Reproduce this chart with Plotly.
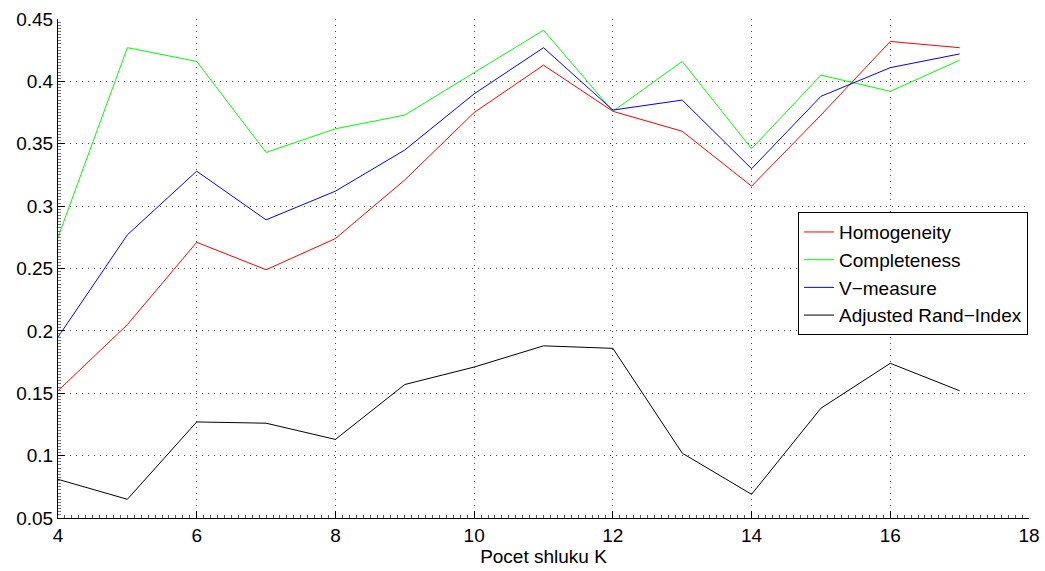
import plotly.graph_objects as go

k_values = [4, 5, 6, 7, 8, 9, 10, 11, 12, 13, 14, 15, 16, 17]
homogeneity = [0.152, 0.205, 0.271, 0.249, 0.274, 0.321, 0.375, 0.413, 0.376, 0.360, 0.316, 0.373, 0.432, 0.427]
completeness = [0.275, 0.427, 0.416, 0.343, 0.362, 0.373, 0.407, 0.441, 0.376, 0.416, 0.346, 0.405, 0.392, 0.417]
v_measure = [0.195, 0.277, 0.328, 0.289, 0.312, 0.345, 0.390, 0.427, 0.377, 0.385, 0.330, 0.388, 0.411, 0.422]
adjusted_rand = [0.081, 0.065, 0.127, 0.126, 0.113, 0.157, 0.171, 0.188, 0.186, 0.102, 0.069, 0.138, 0.174, 0.152]

series = [
    ("Homogeneity", homogeneity, "#ff0000"),
    ("Completeness", completeness, "#00ff00"),
    ("V\u2212measure", v_measure, "#0000ff"),
    ("Adjusted Rand\u2212Index", adjusted_rand, "#000000"),
]

fig = go.Figure()
for name, vals, color in series:
    fig.add_trace(go.Scatter(x=k_values, y=vals, mode="lines", name=name,
                             line=dict(color=color, width=1)))

font_family = "Liberation Sans, Arial, Helvetica, sans-serif"
axis_common = dict(
    showline=True, linecolor="black", linewidth=1, mirror=False,
    ticks="inside", ticklen=7, tickcolor="black", tickwidth=1,
    showgrid=True, gridcolor="#444444", gridwidth=1, griddash="1px,5px",
    zeroline=False, automargin=False,
    tickfont=dict(family=font_family, size=19, color="black"),
)

fig.update_layout(
    width=1045, height=571,
    margin=dict(l=58, r=16, t=19, b=53),
    paper_bgcolor="white", plot_bgcolor="white",
    font=dict(family=font_family, color="black"),
    xaxis=dict(range=[4, 18], dtick=2, tick0=4,
               minor=dict(ticks="inside", ticklen=3, dtick=0.1, tickcolor="#555555", showgrid=False),
               title=dict(text="Pocet shluku K", font=dict(family=font_family, size=19, color="black"), standoff=3),
               **axis_common),
    yaxis=dict(range=[0.05, 0.45], dtick=0.05, tick0=0.05,
               minor=dict(ticks="inside", ticklen=3, dtick=0.0025, tickcolor="#777777", showgrid=False),
               **axis_common),
    legend=dict(x=0.999, y=0.613, xanchor="right", yanchor="top",
                bgcolor="white", bordercolor="black", borderwidth=1,
                font=dict(family=font_family, size=19, color="black"),
                tracegroupgap=0),
    showlegend=True,
)

fig.write_html("out.html")
